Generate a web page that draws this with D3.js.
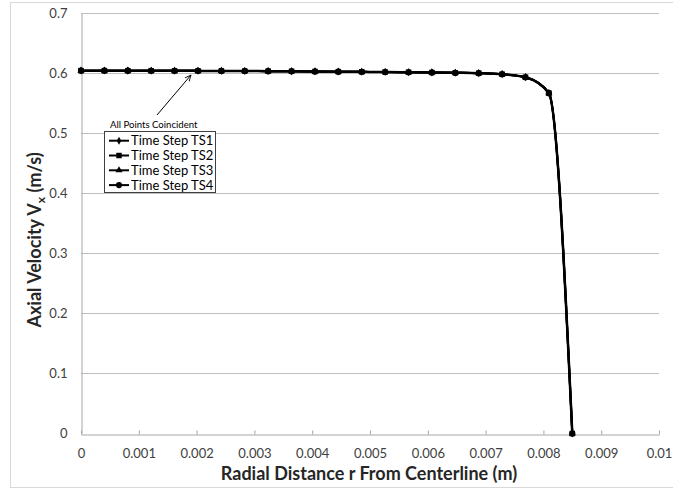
<!DOCTYPE html>
<html><head><meta charset="utf-8">
<script src="https://cdn.jsdelivr.net/npm/d3@7"></script>
<style>body{margin:0;background:#fff}svg{display:block}</style>
</head><body>
<svg id="c" width="673" height="489"></svg>
<script>
const radius = [0,0.000405,0.00081,0.001214,0.001619,0.002024,0.002429,0.002833,0.003238,0.003643,0.004048,0.004452,0.004857,0.005262,0.005667,0.006071,0.006476,0.006881,0.007286,0.00769,0.008095,0.0085];
const ts1 = [0.6045,0.6045,0.6044,0.6043,0.6042,0.6041,0.604,0.6038,0.6036,0.6034,0.6031,0.6028,0.6025,0.6022,0.6018,0.6014,0.6009,0.6002,0.5985,0.5935,0.567,0];
const ts2 = ts1.slice();
const ts3 = ts1.slice();
const ts4 = ts1.slice();
const seriesNames = ["Time Step TS1","Time Step TS2","Time Step TS3","Time Step TS4"];
const seriesData = [ts1,ts2,ts3,ts4];
const xTicks = [0,0.001,0.002,0.003,0.004,0.005,0.006,0.007,0.008,0.009,0.01];
const yTicks = [0,0.1,0.2,0.3,0.4,0.5,0.6,0.7];

const svg = d3.select("#c");
const font = "Lato, sans-serif";
svg.append("rect").attr("x",10.5).attr("y",2.5).attr("width",670).attr("height",485)
  .attr("fill","#fff").attr("stroke","#d9d9d9");

const x = d3.scaleLinear().domain([0,0.01]).range([81,659]);
const y = d3.scaleLinear().domain([0,0.7]).range([433.5,13.3]);

svg.append("g").selectAll("line").data(yTicks.filter(d=>d>0)).join("line")
  .attr("x1",x(0)).attr("x2",x(0.01)).attr("y1",d=>Math.round(y(d))+0.5).attr("y2",d=>Math.round(y(d))+0.5)
  .attr("stroke","#bfbfbf").attr("stroke-width",1);

const gx = svg.append("g").attr("transform",`translate(0,${Math.round(y(0))+0.5})`)
  .call(d3.axisBottom(x).tickValues(xTicks).tickFormat(d=>d3.format("~g")(d)).tickSizeInner(-4).tickSizeOuter(0).tickPadding(14));
gx.select(".domain").attr("stroke","#a6a6a6");
gx.selectAll(".tick line").attr("stroke","#a6a6a6");
gx.selectAll("text").attr("font-family",font).attr("font-size",13).attr("fill","#404040");

const gy = svg.append("g").attr("transform",`translate(${x(0)+0.5},0)`)
  .call(d3.axisLeft(y).tickValues(yTicks).tickFormat(d=>d3.format("~g")(d)).tickSize(0).tickPadding(14));
gy.select(".domain").attr("stroke","#a6a6a6");
gy.selectAll("text").attr("font-family",font).attr("font-size",13).attr("fill","#404040");

svg.append("text").attr("x",369).attr("y",480).attr("text-anchor","middle")
  .attr("font-family",font).attr("font-size",18).attr("font-weight","bold").attr("fill","#262626")
  .text("Radial Distance r From Centerline (m)");
const yt = svg.append("text").attr("transform","translate(41,240) rotate(-90)").attr("text-anchor","middle")
  .attr("font-family",font).attr("font-size",18).attr("font-weight","bold").attr("fill","#262626");
yt.append("tspan").text("Axial Velocity V");
yt.append("tspan").attr("font-size",12).attr("dy",4).text("x");
yt.append("tspan").attr("dy",-4).text(" (m/s)");

const line = d3.line().x((d,i)=>x(radius[i])).y(d=>y(d)).curve(d3.curveMonotoneX);
const shapes = [d3.symbolDiamond, d3.symbolSquare, d3.symbolTriangle, d3.symbolCircle];
const sizes = [18, 30, 22, 30];
seriesData.forEach((s,si)=>{
  svg.append("path").datum(s).attr("d",line).attr("fill","none").attr("stroke","#000").attr("stroke-width",si===0?2.5:2);
});
seriesData.forEach((s,si)=>{
  svg.append("g").selectAll("path").data(s).join("path")
    .attr("transform",(d,i)=>`translate(${x(radius[i])},${y(d)})`)
    .attr("d",d3.symbol().type(shapes[si]).size(sizes[si])).attr("fill","#000");
});

svg.append("defs").append("marker").attr("id","ah").attr("viewBox","0 0 10 10").attr("refX",9).attr("refY",5)
  .attr("markerWidth",7).attr("markerHeight",7).attr("orient","auto")
  .append("path").attr("d","M0,1 L9,5 L0,9").attr("fill","none").attr("stroke","#000").attr("stroke-width",1.2);
svg.append("line").attr("x1",157).attr("y1",115).attr("x2",191).attr("y2",75)
  .attr("stroke","#000").attr("stroke-width",1).attr("marker-end","url(#ah)");
svg.append("text").attr("x",110).attr("y",128).attr("font-family",font).attr("font-size",9.6).attr("fill","#000")
  .text("All Points Coincident");

const lg = svg.append("g");
lg.append("rect").attr("x",104.5).attr("y",131.5).attr("width",111).attr("height",61)
  .attr("fill","#fff").attr("stroke","#404040").attr("stroke-width",1);
seriesNames.forEach((n,i)=>{
  const yy = 140.7 + i*14.8;
  lg.append("line").attr("x1",109).attr("x2",129).attr("y1",yy).attr("y2",yy).attr("stroke","#000").attr("stroke-width",2);
  lg.append("path").attr("transform",`translate(119,${yy})`).attr("d",d3.symbol().type(shapes[i]).size(sizes[i])).attr("fill","#000");
  lg.append("text").attr("x",131).attr("y",yy+4.6).attr("font-family",font).attr("font-size",13).attr("fill","#000").text(n);
});
</script>
</body></html>
